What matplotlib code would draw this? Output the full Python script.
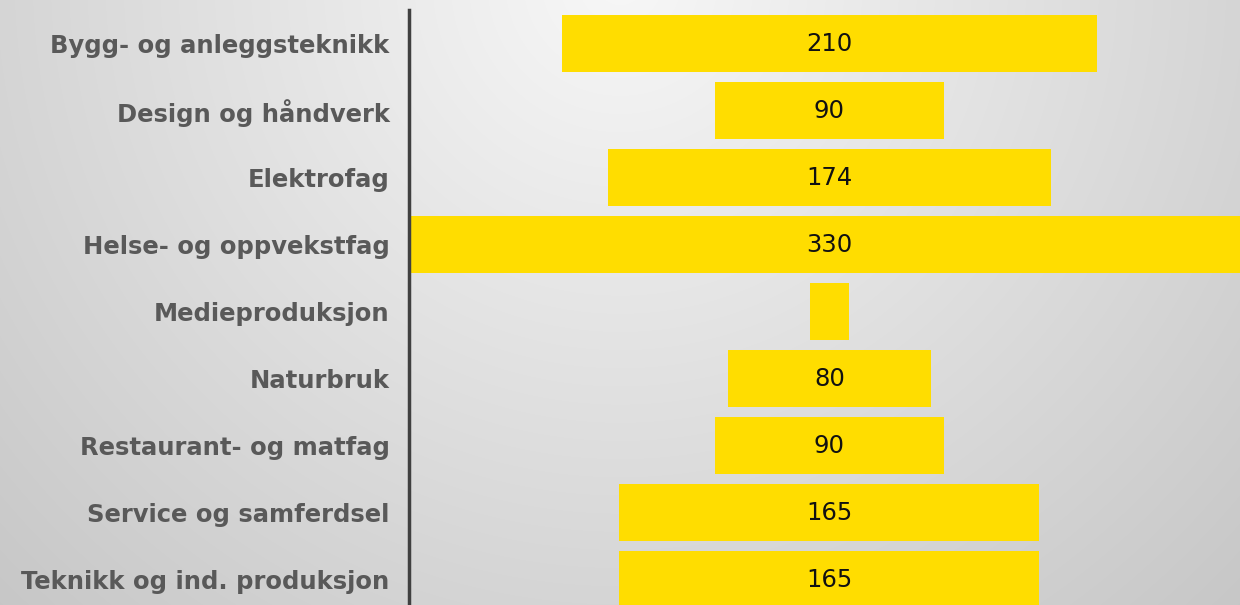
import numpy as np
import matplotlib.pyplot as plt

# data
categories = ['Bygg- og anleggsteknikk', 'Design og håndverk', 'Elektrofag',
              'Helse- og oppvekstfag', 'Medieproduksjon', 'Naturbruk',
              'Restaurant- og matfag', 'Service og samferdsel',
              'Teknikk og ind. produksjon']
values = [210, 90, 174, 330, 15, 80, 90, 165, 165]
show_label = [True, True, True, True, False, True, True, True, True]

W, H = 1240, 605
fig = plt.figure(figsize=(W / 100, H / 100), dpi=100)

# background: soft radial gray gradient
bg = fig.add_axes([0, 0, 1, 1])
yy, xx = np.mgrid[0:H, 0:W]
d = np.sqrt((xx - 620) ** 2 + (yy + 20) ** 2)
shade = 0.97 - 0.19 * (d / 880)
bg.imshow(np.dstack([shade] * 3), aspect='auto', extent=[0, W, H, 0])
bg.axis('off')
bg.set_zorder(0)

# main axes
ax = fig.add_axes([409 / W, 0, 1 - 409 / W, 1])
ax.set_zorder(1)
ax.patch.set_alpha(0)

y = np.arange(len(categories))
v = np.array(values)
ax.barh(y, v, left=-v / 2, height=0.85, color='#FFDD00')

for yi, val, sh in zip(y, values, show_label):
    if sh:
        ax.text(0, yi, str(val), ha='center', va='center', fontsize=17.5, color='#111111')

ax.set_xlim(-165.2, 161.3)
ax.set_ylim(8.38, -0.65)
ax.set_yticks(y)
ax.set_yticklabels(categories, fontsize=17.5, fontweight='bold', color='#595959')
ax.tick_params(axis='y', length=0, pad=14)
ax.set_xticks([])

for s in ['top', 'right', 'bottom']:
    ax.spines[s].set_visible(False)
ax.spines['left'].set_color('#404040')
ax.spines['left'].set_linewidth(2.5)
ax.spines['left'].set_bounds(-0.5, 8.38)

fig.savefig('out.png', dpi=100)
